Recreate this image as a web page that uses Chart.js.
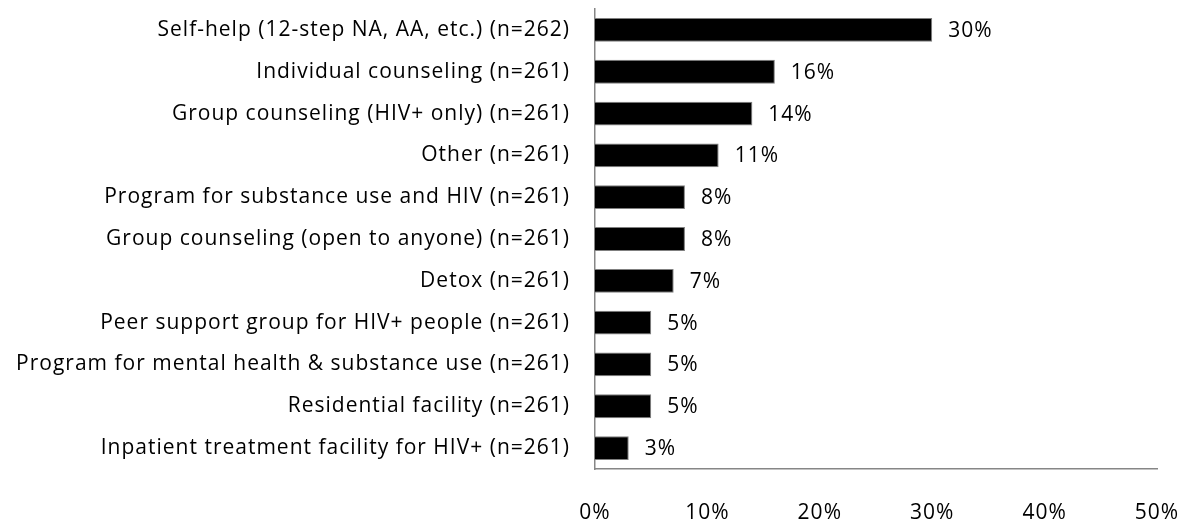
<!DOCTYPE html>
<html>
<head>
<meta charset="utf-8">
<script src="https://cdn.jsdelivr.net/npm/chart.js@4/dist/chart.umd.min.js"></script>
<style>
  html, body { margin: 0; padding: 0; background: #fff; }
  #wrap { width: 1186px; height: 523px; }
</style>
</head>
<body>
<div id="wrap"><canvas id="barChart" width="1186" height="523"></canvas></div>
<script>
var categories = [
  "Self-help (12-step NA, AA, etc.) (n=262)",
  "Individual counseling (n=261)",
  "Group counseling (HIV+ only) (n=261)",
  "Other (n=261)",
  "Program for substance use and HIV (n=261)",
  "Group counseling (open to anyone) (n=261)",
  "Detox (n=261)",
  "Peer support group for HIV+ people (n=261)",
  "Program for mental health & substance use (n=261)",
  "Residential facility (n=261)",
  "Inpatient treatment facility for HIV+ (n=261)"
];
var percents = [30, 16, 14, 11, 8, 8, 7, 5, 5, 5, 3];
var tickValues = [0, 10, 20, 30, 40, 50];

var fontFamily = "'Open Sans', sans-serif";
var fontSize = 21;

// slightly looser text so the labels spread like the original typeface
var textSpacing = {
  id: "textSpacing",
  beforeDraw: function (chart) {
    chart.ctx.letterSpacing = "1px";
  }
};

// value labels to the right of each bar
var barLabels = {
  id: "barLabels",
  afterDatasetsDraw: function (chart) {
    var ctx = chart.ctx;
    var meta = chart.getDatasetMeta(0);
    ctx.save();
    ctx.font = fontSize + "px " + fontFamily;
    ctx.fillStyle = "#000";
    ctx.textAlign = "left";
    ctx.textBaseline = "middle";
    meta.data.forEach(function (bar, i) {
      ctx.fillText(percents[i] + "%", bar.x + 16, bar.y + 1);
    });
    ctx.restore();
  }
};

var ctx = document.getElementById("barChart");
var chart = new Chart(ctx, {
  type: "bar",
  data: {
    labels: categories,
    datasets: [{
      data: percents,
      backgroundColor: "#000",
      borderColor: "#7f7f7f",
      borderWidth: 1,
      borderSkipped: "start",
      barPercentage: 0.57,
      categoryPercentage: 1
    }]
  },
  options: {
    indexAxis: "y",
    responsive: false,
    animation: false,
    layout: { padding: { top: 9, right: 29, left: 0, bottom: 0 } },
    plugins: {
      legend: { display: false },
      tooltip: { enabled: false }
    },
    scales: {
      x: {
        min: 0,
        max: 50,
        afterBuildTicks: function (axis) {
          axis.ticks = tickValues.map(function (v) { return { value: v }; });
        },
        afterFit: function (axis) {
          axis.height = 54;
          axis.paddingLeft = 0;
          axis.paddingRight = 0;
        },
        grid: { display: false, drawTicks: false },
        border: { display: true, color: "#868686", width: 1.5 },
        ticks: {
          padding: 31,
          color: "#000",
          font: { family: fontFamily, size: fontSize },
          callback: function (v) { return v + "%"; }
        }
      },
      y: {
        afterFit: function (axis) {
          axis.width = 595;
          axis.paddingTop = 0;
          axis.paddingBottom = 0;
        },
        grid: { display: false, drawTicks: false },
        border: { display: true, color: "#868686", width: 1.5 },
        ticks: {
          padding: 25,
          color: "#000",
          font: { family: fontFamily, size: fontSize }
        }
      }
    }
  },
  plugins: [textSpacing, barLabels]
});
</script>
</body>
</html>
